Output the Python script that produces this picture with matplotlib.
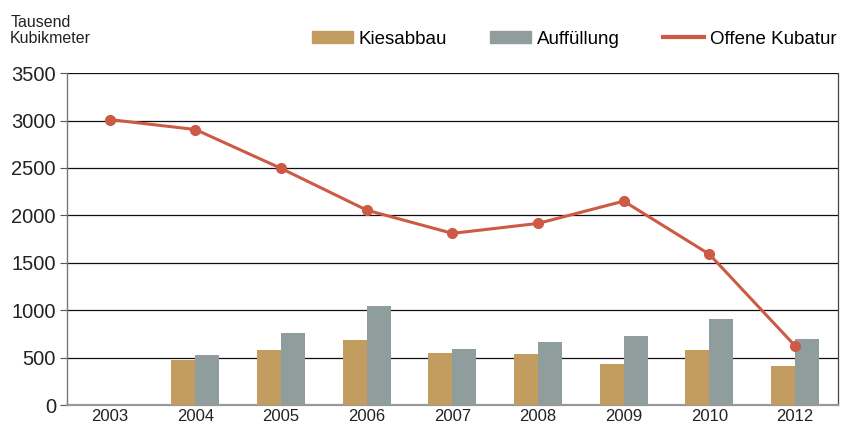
import matplotlib
matplotlib.use("Agg")
import matplotlib.pyplot as plt
import numpy as np
from matplotlib.lines import Line2D
from matplotlib.patches import Patch

plt.rcParams['font.family'] = ['Liberation Sans', 'DejaVu Sans']

# Daten (Tausend Kubikmeter)
years = ['2003', '2004', '2005', '2006', '2007', '2008', '2009', '2010', '2012']
kiesabbau = [0, 475, 580, 685, 550, 540, 435, 580, 415]
auffuellung = [0, 530, 760, 1045, 590, 665, 730, 905, 695]
offene_kubatur = [3010, 2905, 2495, 2055, 1810, 1915, 2150, 1590, 625]
y_ticks = [0, 500, 1000, 1500, 2000, 2500, 3000, 3500]

c_kies = '#C39C60'
c_auff = '#8F9E9C'
c_line = '#CC5A45'

fig = plt.figure(figsize=(8.48, 4.25), dpi=100)
ax = fig.add_axes([0.079, 0.047, 0.909, 0.781])

x = np.arange(len(years))
w = 0.28
ax.bar(x - w / 2, kiesabbau, width=w, color=c_kies, zorder=3)
ax.bar(x + w / 2, auffuellung, width=w, color=c_auff, zorder=3)
ax.plot(x, offene_kubatur, color=c_line, lw=2.2, marker='o', markersize=7, zorder=4)

ax.set_xlim(-0.5, len(years) - 0.5)
ax.set_ylim(0, 3500)
ax.set_yticks(y_ticks)
ax.set_yticklabels([str(t) for t in y_ticks], fontsize=14.5, color='#222222')
ax.set_xticks(x)
ax.set_xticklabels(years, fontsize=12, color='#222222')
ax.tick_params(axis='x', length=0, pad=3)
ax.tick_params(axis='y', length=5, width=0.8, color='#555555', pad=3)
ax.yaxis.grid(True, color='#111111', lw=0.9, zorder=1)
ax.set_axisbelow(True)

ax.spines['top'].set_visible(False)
ax.spines['left'].set_color('#777777')
ax.spines['left'].set_linewidth(1.0)
ax.spines['bottom'].set_color('#999999')
ax.spines['bottom'].set_linewidth(1.6)
ax.spines['right'].set_color('#444444')
ax.spines['right'].set_linewidth(0.9)

# Einheit
fig.text(0.012, 0.892, 'Tausend\nKubikmeter', fontsize=11.5, color='#222222',
         va='bottom', ha='left', linespacing=1.05)

# Legende
handles = [Patch(color=c_kies, label='Kiesabbau'),
           Patch(color=c_auff, label='Auffüllung'),
           Line2D([0], [0], color=c_line, lw=3, label='Offene Kubatur')]
fig.legend(handles=handles, ncol=3, loc='center right', bbox_to_anchor=(0.995, 0.908),
           frameon=False, fontsize=13.5, handlelength=2.2, handleheight=0.55,
           handletextpad=0.3, columnspacing=2.3, borderaxespad=0)

fig.savefig('out.png', dpi=100)
